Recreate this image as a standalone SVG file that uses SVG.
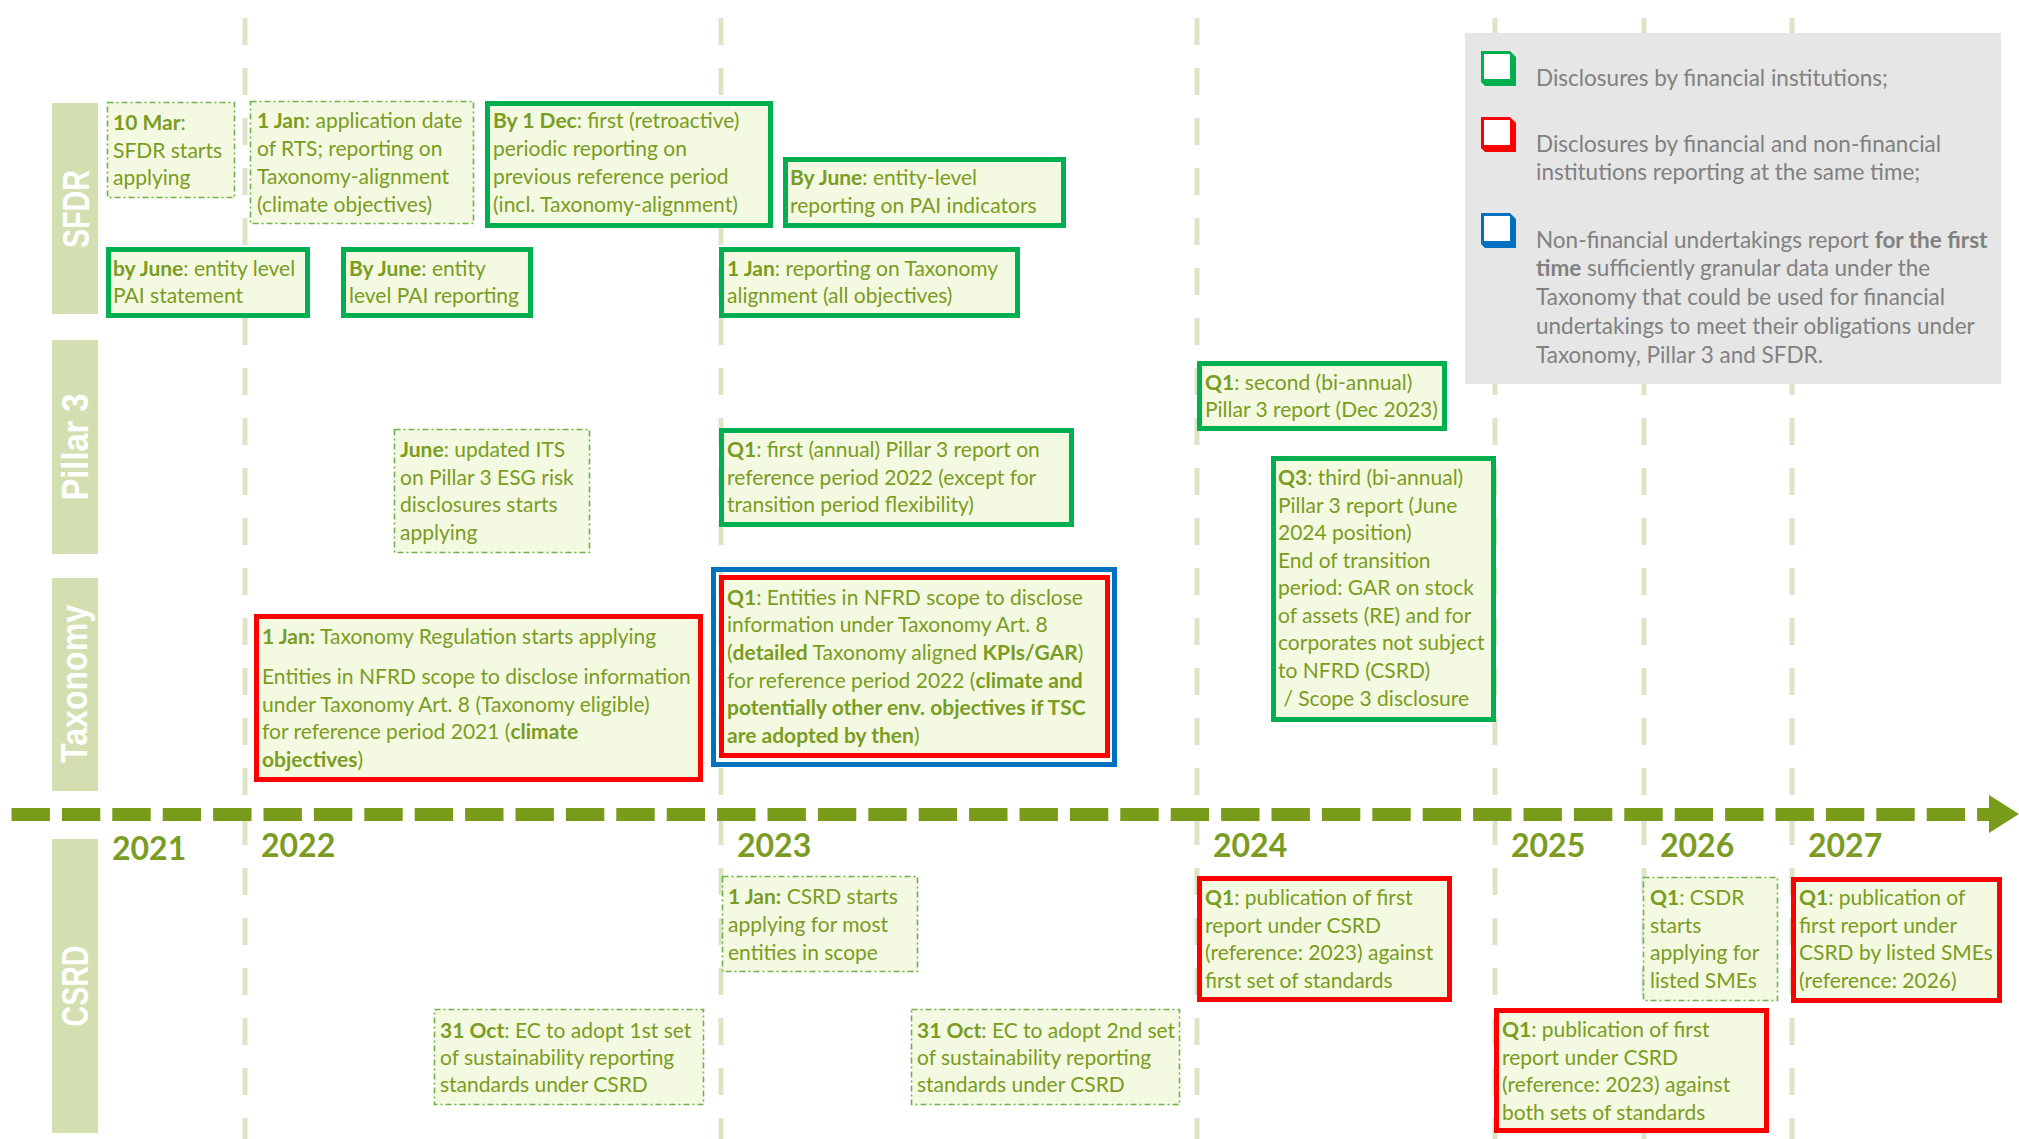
<svg xmlns="http://www.w3.org/2000/svg" width="2019" height="1139" viewBox="0 0 2019 1139">
<style>
.t{font-family:Lato,"Open Sans","Liberation Sans",sans-serif;font-size:21px;fill:#7b9c22}
.b{font-weight:bold}
.lg{font-family:Lato,"Open Sans","Liberation Sans",sans-serif;font-size:22.5px;fill:#808080}
.yr{font-family:Lato,"Liberation Sans",sans-serif;font-size:32px;font-weight:bold;fill:#7b9c22}
.lane{fill:#d3dfb0}
.lt{font-family:"Liberation Sans",Arial,sans-serif;font-weight:bold;font-size:37px;fill:#ffffff}
.g{fill:#f3fae1;stroke:#00b050;stroke-width:5}
.r{fill:#f3fae1;stroke:#ff0000;stroke-width:5}
.bl{fill:none;stroke:#0070c0;stroke-width:5}
.dd{fill:#f3fae1;stroke:#6fb24a;stroke-width:1.6;stroke-dasharray:6 3 2 3}
.vl{stroke:#dde4c6;stroke-width:5;stroke-dasharray:27 23}
</style>
<rect width="2019" height="1139" fill="#ffffff"/>
<g id="gridlines">
<line class="vl" x1="245" y1="18" x2="245" y2="1139"/>
<line class="vl" x1="721" y1="18" x2="721" y2="1139"/>
<line class="vl" x1="1197" y1="18" x2="1197" y2="1139"/>
<line class="vl" x1="1495" y1="18" x2="1495" y2="1139"/>
<line class="vl" x1="1644" y1="18" x2="1644" y2="1139"/>
<line class="vl" x1="1792" y1="18" x2="1792" y2="1139"/>
</g>
<g id="legend">
<rect x="1465" y="33" width="536" height="351" fill="#e6e6e6"/>
<path d="M1481,51 H1510 L1516,57 V86 H1485 L1481,82 Z" fill="#00b050"/>
<rect x="1484" y="54" width="26" height="25" fill="#ffffff"/>
<path d="M1481,117 H1510 L1516,123 V152 H1485 L1481,148 Z" fill="#ff0000"/>
<rect x="1484" y="120" width="26" height="25" fill="#ffffff"/>
<path d="M1481,213 H1510 L1516,219 V248 H1485 L1481,244 Z" fill="#0070c0"/>
<rect x="1484" y="216" width="26" height="25" fill="#ffffff"/>
<text class="lg" x="1536" y="86">Disclosures by financial institutions;</text>
<text class="lg" x="1536" y="152">Disclosures by financial and non-financial</text>
<text class="lg" x="1536" y="180">institutions reporting at the same time;</text>
<text class="lg" x="1536" y="248">Non-financial undertakings report <tspan class="b">for the first</tspan></text>
<text class="lg" x="1536" y="276"><tspan class="b">time</tspan> sufficiently granular data under the</text>
<text class="lg" x="1536" y="305">Taxonomy that could be used for financial</text>
<text class="lg" x="1536" y="334">undertakings to meet their obligations under</text>
<text class="lg" x="1536" y="363">Taxonomy, Pillar 3 and SFDR.</text>
</g>
<g id="lanes">
<rect class="lane" x="52" y="103" width="46" height="211"/>
<text class="lt" transform="translate(89,209) rotate(-90)" text-anchor="middle" textLength="78" lengthAdjust="spacingAndGlyphs">SFDR</text>
<rect class="lane" x="52" y="340" width="46" height="214"/>
<text class="lt" transform="translate(88,447) rotate(-90)" text-anchor="middle" textLength="107" lengthAdjust="spacingAndGlyphs">Pillar 3</text>
<rect class="lane" x="52" y="578" width="46" height="213"/>
<text class="lt" transform="translate(87,684) rotate(-90)" text-anchor="middle" textLength="158" lengthAdjust="spacingAndGlyphs">Taxonomy</text>
<rect class="lane" x="52" y="839" width="46" height="294"/>
<text class="lt" transform="translate(88,986) rotate(-90)" text-anchor="middle" textLength="81" lengthAdjust="spacingAndGlyphs">CSRD</text>
</g>
<g id="connectors">
<line x1="11.5" y1="814.5" x2="1990" y2="814.5" stroke="#789c1a" stroke-width="13" stroke-dasharray="38.4 12"/>
<polygon points="1989,795 2019,814 1989,833" fill="#789c1a"/>
</g>
<g id="years">
<text class="yr" x="112" y="860">2021</text>
<text class="yr" x="261" y="857">2022</text>
<text class="yr" x="737" y="857">2023</text>
<text class="yr" x="1213" y="857">2024</text>
<text class="yr" x="1511" y="857">2025</text>
<text class="yr" x="1660" y="857">2026</text>
<text class="yr" x="1808" y="857">2027</text>
</g>
<g id="sfdr-10mar">
<rect class="dd" x="107.5" y="102.5" width="127" height="95"/>
<text class="t" x="113" y="130"><tspan class="b">10 Mar</tspan>:</text>
<text class="t" x="113" y="157.5">SFDR starts</text>
<text class="t" x="113" y="185">applying</text>
</g>
<g id="sfdr-1jan-rts">
<rect class="dd" x="250.5" y="101.5" width="223" height="122"/>
<text class="t" x="257" y="128"><tspan class="b">1 Jan</tspan>: application date</text>
<text class="t" x="257" y="156">of RTS; reporting on</text>
<text class="t" x="257" y="184">Taxonomy-alignment</text>
<text class="t" x="257" y="212">(climate objectives)</text>
</g>
<g id="sfdr-1dec">
<rect class="g" x="487.5" y="103.5" width="283" height="122"/>
<text class="t" x="493" y="128"><tspan class="b">By 1 Dec</tspan>: first (retroactive)</text>
<text class="t" x="493" y="156">periodic reporting on</text>
<text class="t" x="493" y="184">previous reference period</text>
<text class="t" x="493" y="212">(incl. Taxonomy-alignment)</text>
</g>
<g id="sfdr-june-pai-indicators">
<rect class="g" x="785.5" y="159.5" width="278" height="66"/>
<text class="t" x="790" y="185"><tspan class="b">By June</tspan>: entity-level</text>
<text class="t" x="790" y="213">reporting on PAI indicators</text>
</g>
<g id="sfdr-june-pai-statement">
<rect class="g" x="108.5" y="249.5" width="199" height="66"/>
<text class="t" x="113" y="276"><tspan class="b">by June</tspan>: entity level</text>
<text class="t" x="113" y="303">PAI statement</text>
</g>
<g id="sfdr-june-pai-reporting">
<rect class="g" x="343.5" y="249.5" width="187" height="66"/>
<text class="t" x="349" y="276"><tspan class="b">By June</tspan>: entity</text>
<text class="t" x="349" y="303">level PAI reporting</text>
</g>
<g id="sfdr-1jan-alignment">
<rect class="g" x="721.5" y="249.5" width="296" height="66"/>
<text class="t" x="727" y="276"><tspan class="b">1 Jan</tspan>: reporting on Taxonomy</text>
<text class="t" x="727" y="303">alignment (all objectives)</text>
</g>
<g id="p3-june-its">
<rect class="dd" x="394.5" y="429.5" width="195" height="123"/>
<text class="t" x="400" y="457"><tspan class="b">June</tspan>: updated ITS</text>
<text class="t" x="400" y="485">on Pillar 3 ESG risk</text>
<text class="t" x="400" y="512">disclosures starts</text>
<text class="t" x="400" y="540">applying</text>
</g>
<g id="p3-q1-first">
<rect class="g" x="721.5" y="430.5" width="350" height="94"/>
<text class="t" x="727" y="457"><tspan class="b">Q1</tspan>: first (annual) Pillar 3 report on</text>
<text class="t" x="727" y="485">reference period 2022 (except for</text>
<text class="t" x="727" y="512">transition period flexibility)</text>
</g>
<g id="p3-q1-second">
<rect class="g" x="1199.5" y="363.5" width="245" height="65"/>
<text class="t" x="1205" y="390"><tspan class="b">Q1</tspan>: second (bi-annual)</text>
<text class="t" x="1205" y="417">Pillar 3 report (Dec 2023)</text>
</g>
<g id="p3-q3-third">
<rect class="g" x="1273.5" y="458.5" width="220" height="261"/>
<text class="t" x="1278" y="485"><tspan class="b">Q3</tspan>: third (bi-annual)</text>
<text class="t" x="1278" y="513">Pillar 3 report (June</text>
<text class="t" x="1278" y="540">2024 position)</text>
<text class="t" x="1278" y="568">End of transition</text>
<text class="t" x="1278" y="595">period: GAR on stock</text>
<text class="t" x="1278" y="623">of assets (RE) and for</text>
<text class="t" x="1278" y="650">corporates not subject</text>
<text class="t" x="1278" y="678">to NFRD (CSRD)</text>
<text class="t" x="1278" y="706" xml:space="preserve"> / Scope 3 disclosure</text>
</g>
<g id="tax-1jan">
<rect class="r" x="256.5" y="616.5" width="444" height="163"/>
<text class="t" x="262" y="644"><tspan class="b">1 Jan:</tspan> Taxonomy Regulation starts applying</text>
<text class="t" x="262" y="684">Entities in NFRD scope to disclose information</text>
<text class="t" x="262" y="712">under Taxonomy Art. 8 (Taxonomy eligible)</text>
<text class="t" x="262" y="739">for reference period 2021 (<tspan class="b">climate</tspan></text>
<text class="t" x="262" y="767"><tspan class="b">objectives</tspan>)</text>
</g>
<g id="tax-q1">
<rect class="bl" x="713.5" y="569.5" width="401" height="195"/>
<rect class="r" x="721.5" y="577.5" width="386" height="178"/>
<text class="t" x="727" y="605"><tspan class="b">Q1</tspan>: Entities in NFRD scope to disclose</text>
<text class="t" x="727" y="632">information under Taxonomy Art. 8</text>
<text class="t" x="727" y="660">(<tspan class="b">detailed</tspan> Taxonomy aligned <tspan class="b">KPIs/GAR</tspan>)</text>
<text class="t" x="727" y="688">for reference period 2022 (<tspan class="b">climate and</tspan></text>
<text class="t b" x="727" y="715">potentially other env. objectives if TSC</text>
<text class="t" x="727" y="743"><tspan class="b">are adopted by then</tspan>)</text>
</g>
<g id="csrd-1jan">
<rect class="dd" x="722.5" y="876.5" width="195" height="95"/>
<text class="t" x="728" y="904"><tspan class="b">1 Jan:</tspan> CSRD starts</text>
<text class="t" x="728" y="932">applying for most</text>
<text class="t" x="728" y="960">entities in scope</text>
</g>
<g id="csrd-31oct-1st">
<rect class="dd" x="434.5" y="1009.5" width="269" height="95"/>
<text class="t" x="440" y="1038"><tspan class="b">31 Oct</tspan>: EC to adopt 1st set</text>
<text class="t" x="440" y="1065">of sustainability reporting</text>
<text class="t" x="440" y="1092">standards under CSRD</text>
</g>
<g id="csrd-31oct-2nd">
<rect class="dd" x="911.5" y="1009.5" width="268" height="95"/>
<text class="t" x="917" y="1038"><tspan class="b">31 Oct</tspan>: EC to adopt 2nd set</text>
<text class="t" x="917" y="1065">of sustainability reporting</text>
<text class="t" x="917" y="1092">standards under CSRD</text>
</g>
<g id="csrd-q1-2024">
<rect class="r" x="1199.5" y="878.5" width="250" height="121"/>
<text class="t" x="1205" y="905"><tspan class="b">Q1</tspan>: publication of first</text>
<text class="t" x="1205" y="933">report under CSRD</text>
<text class="t" x="1205" y="960">(reference: 2023) against</text>
<text class="t" x="1205" y="988">first set of standards</text>
</g>
<g id="csrd-q1-2026">
<rect class="dd" x="1643.5" y="877.5" width="134" height="123"/>
<text class="t" x="1650" y="905"><tspan class="b">Q1</tspan>: CSDR</text>
<text class="t" x="1650" y="933">starts</text>
<text class="t" x="1650" y="960">applying for</text>
<text class="t" x="1650" y="988">listed SMEs</text>
</g>
<g id="csrd-q1-2027">
<rect class="r" x="1793.5" y="879.5" width="206" height="121"/>
<text class="t" x="1799" y="905"><tspan class="b">Q1</tspan>: publication of</text>
<text class="t" x="1799" y="933">first report under</text>
<text class="t" x="1799" y="960">CSRD by listed SMEs</text>
<text class="t" x="1799" y="988">(reference: 2026)</text>
</g>
<g id="csrd-q1-2025">
<rect class="r" x="1496.5" y="1010.5" width="270" height="120"/>
<text class="t" x="1502" y="1037"><tspan class="b">Q1</tspan>: publication of first</text>
<text class="t" x="1502" y="1065">report under CSRD</text>
<text class="t" x="1502" y="1092">(reference: 2023) against</text>
<text class="t" x="1502" y="1120">both sets of standards</text>
</g>
</svg>
